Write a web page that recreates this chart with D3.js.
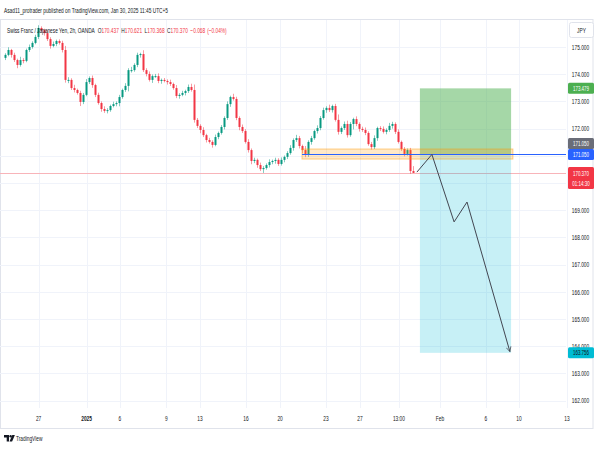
<!DOCTYPE html>
<html><head><meta charset="utf-8">
<script src="https://cdn.jsdelivr.net/npm/d3@7"></script>
<style>
body{margin:0;background:#fff}
svg{display:block;font-family:"Liberation Sans",Arial,sans-serif}
</style>
</head><body>
<svg id="c" width="600" height="452"></svg>
<script>
// ---------- data ----------
const firstOpen = 174.60;
const closes = [
174.71,174.89,174.71,174.52,174.34,174.52,174.49,174.89,175.00,175.15,
175.37,175.70,175.62,175.51,175.29,175.04,175.11,175.22,175.15,174.89,
173.79,173.79,173.49,173.42,173.31,172.98,173.24,173.71,173.86,173.60,
173.24,172.94,172.72,172.65,172.68,172.83,172.90,172.94,173.16,173.42,
173.57,174.15,174.15,174.34,174.71,174.74,174.15,174.01,173.79,173.93,
173.93,173.75,173.79,173.75,173.71,173.64,173.49,173.20,173.24,173.31,
173.38,173.53,173.42,172.32,172.10,171.95,171.76,171.58,171.51,171.40,
171.69,171.84,172.06,172.39,172.90,173.16,173.09,172.39,172.06,171.91,
171.51,171.21,170.81,170.85,170.66,170.51,170.55,170.66,170.77,170.81,
170.85,170.70,170.85,170.96,171.10,171.29,171.58,171.65,171.36,171.21,
171.03,171.51,171.65,171.91,172.02,172.39,172.68,172.76,172.68,172.83,
172.32,171.88,172.02,172.17,171.76,172.17,172.35,172.17,171.99,171.95,
171.84,171.43,171.32,171.65,172.02,171.99,171.88,171.95,172.10,172.17,
171.88,171.51,171.25,171.07,171.21,170.44,170.37
];
const upperWicks = [
0.06,0.10,0.04,0.08,0.05,0.12,0.07,0.05,0.09,0.06,
0.08,0.10,0.06,0.05,0.11,0.07,0.09,0.05,0.06,0.08,
0.15,0.10,0.06,0.12,0.05,0.08,0.07,0.11,0.06,0.09,
0.05,0.08,0.06,0.10,0.07,0.05,0.09,0.06,0.08,0.05,
0.10,0.07,0.12,0.06,0.08,0.05,0.14,0.07,0.09,0.06,
0.08,0.10,0.05,0.07,0.06,0.09,0.05,0.11,0.06,0.08,
0.05,0.09,0.12,0.20,0.07,0.06,0.10,0.05,0.08,0.06,
0.09,0.05,0.07,0.06,0.10,0.05,0.12,0.08,0.06,0.09,
0.07,0.10,0.06,0.08,0.05,0.09,0.07,0.06,0.10,0.05,
0.08,0.06,0.09,0.05,0.07,0.10,0.06,0.12,0.08,0.05,
0.15,0.06,0.08,0.05,0.10,0.07,0.09,0.06,0.12,0.05,
0.08,0.20,0.06,0.09,0.12,0.07,0.05,0.10,0.06,0.08,
0.09,0.06,0.08,0.10,0.05,0.07,0.09,0.06,0.11,0.08,
0.06,0.09,0.05,0.07,0.06,0.08,0.18
];
const lowerWicks = [
0.08,0.05,0.10,0.07,0.12,0.06,0.09,0.05,0.07,0.06,
0.05,0.08,0.06,0.09,0.07,0.10,0.05,0.08,0.06,0.09,
0.10,0.12,0.07,0.09,0.06,0.15,0.08,0.05,0.07,0.10,
0.08,0.06,0.10,0.07,0.09,0.06,0.05,0.08,0.12,0.06,
0.07,0.20,0.09,0.06,0.08,0.10,0.07,0.09,0.06,0.11,
0.06,0.08,0.10,0.05,0.09,0.07,0.06,0.08,0.10,0.05,
0.09,0.07,0.06,0.10,0.08,0.12,0.07,0.09,0.06,0.10,
0.05,0.08,0.06,0.09,0.07,0.10,0.06,0.08,0.12,0.07,
0.06,0.09,0.12,0.08,0.10,0.07,0.14,0.06,0.09,0.08,
0.10,0.07,0.06,0.09,0.08,0.06,0.10,0.07,0.09,0.12,
0.08,0.07,0.10,0.06,0.09,0.08,0.06,0.10,0.07,0.09,
0.06,0.10,0.08,0.07,0.09,0.06,0.20,0.08,0.10,0.07,
0.08,0.06,0.09,0.07,0.10,0.08,0.06,0.09,0.07,0.10,
0.08,0.06,0.07,0.09,0.06,0.10,0.00
];
const priceTicks = [162,163,164,165,166,167,168,169,170,171,172,173,174,175];
const timeTickIdx = [11.2,27.2,38.3,53.8,65,80.3,91.7,107,118.3,131.3,145,160.3,171.3,187.3];
const timeTickLabels = ["27","2025","6","9","13","16","20","23","27","13:00","Feb","6","10","13"];

const entryPrice = 171.05;
const targetPrice = 173.479;
const stopPrice = 163.756;
const positionIdx = [138.3, 168.7];
const zoneIdx = [99, 169.3];
const zonePrices = [170.88, 171.25];
const hlineStartIdx = 99;
const lastPrice = 170.37;
const arrowIdx = [137.3, 142.3, 149.7, 154, 168.3];
const arrowPrices = [170.40, 171.05, 168.57, 169.30, 163.80];

const tags = [
  {v: targetPrice, t: ["173.479"], bg: "#4caf50", fg: "#ffffff", shift: 0},
  {v: entryPrice, t: ["171.050"], bg: "#6a6d78", fg: "#ffffff", shift: -11},
  {v: entryPrice, t: ["171.050"], bg: "#2962ff", fg: "#ffffff", shift: 0},
  {v: lastPrice, t: ["170.370", "01:14:30"], bg: "#f23645", fg: "#ffffff", shift: 0},
  {v: stopPrice, t: ["163.756"], bg: "#00bcd4", fg: "#131722", shift: 0}
];

const headerText = "Asad11_protrader published on TradingView.com, Jan 30, 2025 11:45 UTC+5";
const legendParts = [
  ["Swiss Franc / Japanese Yen, 2h, OANDA", "#131722", 3],
  ["O", "#131722", 0], ["170.437", "#f23645", 2.5],
  ["H", "#131722", 0], ["170.621", "#f23645", 2.5],
  ["L", "#131722", 0], ["170.368", "#f23645", 2.5],
  ["C", "#131722", 0], ["170.370", "#f23645", 2.5],
  ["\u22120.068", "#f23645", 2], ["(\u22120.04%)", "#f23645", 0]
];

// ---------- layout ----------
const W = 600, H = 452;
const plotL = 0, plotR = 566, plotT = 19, plotB = 408, axisB = 428, axisR = 593;
const UP = "#089981", DOWN = "#f23645";
const COND = 0.6;
const FS = 8;

const svg = d3.select("#c");
const x = d3.scaleLinear().domain([0, 187]).range([5, 566]);
const y = d3.scaleLinear().domain([162, 175]).range([400.6, 47]);

// condensed text helper: horizontal squeeze through a transform
function label(parent, tx, ty, s, o = {}) {
  const t = parent.append("text")
    .attr("transform", `translate(${tx},${ty}) scale(${COND},1)`)
    .attr("font-size", o.fs || FS)
    .attr("fill", o.fill || "#131722")
    .attr("text-anchor", o.anchor || "start")
    .attr("font-weight", o.bold ? "bold" : "normal")
    .text(s);
  if (o.mid) t.attr("dy", "0.35em");
  return t;
}

// candles data
const bars = closes.map((c, i) => {
  const o = i === 0 ? firstOpen : closes[i - 1];
  return {i, o, c, h: Math.max(o, c) + upperWicks[i], l: Math.min(o, c) - lowerWicks[i]};
});

svg.append("rect").attr("width", W).attr("height", H).attr("fill", "#fff");

// frame
svg.append("rect").attr("x", 0.5).attr("y", plotT + 0.5).attr("width", axisR - 0.5).attr("height", axisB - plotT)
  .attr("fill", "none").attr("stroke", "#e0e3eb").attr("stroke-width", 1);

// grid
const grid = svg.append("g").attr("stroke", "#f0f3fa").attr("stroke-width", 1);
grid.selectAll("line.h").data(priceTicks).join("line")
  .attr("x1", plotL).attr("x2", plotR)
  .attr("y1", d => Math.round(y(d)) + 0.5).attr("y2", d => Math.round(y(d)) + 0.5);
grid.selectAll("line.v").data(timeTickIdx).join("line")
  .attr("x1", d => Math.round(x(d)) + 0.5).attr("x2", d => Math.round(x(d)) + 0.5)
  .attr("y1", plotT + 1).attr("y2", plotB);

// last price line
svg.append("line").attr("x1", plotL).attr("x2", plotR)
  .attr("y1", Math.round(y(lastPrice)) + 0.5).attr("y2", Math.round(y(lastPrice)) + 0.5)
  .attr("stroke", "#f8b4b9").attr("stroke-width", 1);

// candles
const cg = svg.append("g");
cg.selectAll("line").data(bars).join("line")
  .attr("x1", d => Math.round(x(d.i)) + 0.5).attr("x2", d => Math.round(x(d.i)) + 0.5)
  .attr("y1", d => y(d.h)).attr("y2", d => y(d.l))
  .attr("stroke", d => d.c >= d.o ? UP : DOWN).attr("stroke-width", 1).attr("stroke-opacity", 0.5);
cg.selectAll("rect").data(bars).join("rect")
  .attr("x", d => Math.round(x(d.i)) - 0.5).attr("width", 2)
  .attr("y", d => y(Math.max(d.o, d.c)))
  .attr("height", d => Math.max(1, Math.abs(y(d.o) - y(d.c))))
  .attr("fill", d => d.c >= d.o ? UP : DOWN);

// position boxes
svg.append("rect").attr("x", x(positionIdx[0])).attr("width", x(positionIdx[1]) - x(positionIdx[0]))
  .attr("y", y(targetPrice)).attr("height", y(entryPrice) - y(targetPrice))
  .attr("fill", "rgba(76,175,80,0.5)");
svg.append("rect").attr("x", x(positionIdx[0])).attr("width", x(positionIdx[1]) - x(positionIdx[0]))
  .attr("y", y(entryPrice)).attr("height", y(stopPrice) - y(entryPrice))
  .attr("fill", "rgba(0,188,212,0.22)");

// zone
svg.append("rect").attr("x", x(zoneIdx[0])).attr("width", x(zoneIdx[1]) - x(zoneIdx[0]))
  .attr("y", y(zonePrices[1])).attr("height", y(zonePrices[0]) - y(zonePrices[1]))
  .attr("fill", "rgba(255,152,0,0.22)").attr("stroke", "rgba(255,152,0,0.45)").attr("stroke-width", 1);

// horizontal blue line
svg.append("line").attr("x1", x(hlineStartIdx)).attr("x2", plotR)
  .attr("y1", Math.round(y(entryPrice)) + 0.5).attr("y2", Math.round(y(entryPrice)) + 0.5)
  .attr("stroke", "#2962ff").attr("stroke-width", 1);

// arrow path
svg.append("defs").append("marker").attr("id", "ah").attr("viewBox", "0 0 10 10")
  .attr("refX", 9).attr("refY", 5).attr("markerWidth", 6).attr("markerHeight", 6)
  .attr("orient", "auto")
  .append("path").attr("d", "M1,1 L9,5 L1,9").attr("fill", "none").attr("stroke", "#434651").attr("stroke-width", 1.2);
const pts = arrowIdx.map((d, k) => [x(d), y(arrowPrices[k])]);
svg.append("path").attr("d", d3.line()(pts)).attr("fill", "none")
  .attr("stroke", "#434651").attr("stroke-width", 1).attr("marker-end", "url(#ah)");

// header
label(svg, 4, 13, headerText);

// legend (sequential pieces)
const lgG = svg.append("g");
let lx = 7;
legendParts.forEach(p => {
  const t = label(lgG, lx, 33, p[0], {fill: p[1]});
  lx += t.node().getComputedTextLength() * COND + p[2];
});

// price axis labels
const axG = svg.append("g");
priceTicks.forEach(d => label(axG, 580.5, y(d), d3.format(".3f")(d), {anchor: "middle", mid: true}));

// JPY box
svg.append("rect").attr("x", 569.5).attr("y", 22.5).attr("width", 24).attr("height", 15).attr("rx", 2)
  .attr("fill", "#fff").attr("stroke", "#e0e3eb");
label(svg, 581.5, 30, "JPY", {anchor: "middle", mid: true});

// time axis labels
const tG = svg.append("g");
timeTickIdx.forEach((d, k) => label(tG, x(d), 421, timeTickLabels[k], {anchor: "middle", bold: timeTickLabels[k] === "2025"}));

// price tags
tags.forEach(tg => {
  const cy = y(tg.v) + tg.shift;
  const two = tg.t.length > 1;
  const hgt = two ? 22 : 11;
  const top = two ? cy - 6 : cy - 5.5;
  svg.append("rect").attr("x", 568).attr("y", top).attr("width", 26).attr("height", hgt).attr("rx", 1.5).attr("fill", tg.bg);
  tg.t.forEach((s, k) => label(svg, 581, cy + k * 10, s, {anchor: "middle", mid: true, fill: tg.fg, fs: 7.5}));
});

// TradingView logo
const logo = svg.append("g").attr("fill", "#131722");
logo.append("path").attr("d", "M4,435 h5 v6.5 h-2.3 v-4 h-2.7 z");
logo.append("circle").attr("cx", 10.6).attr("cy", 436.3).attr("r", 1.2);
logo.append("path").attr("d", "M12.3,435 h2.6 l-2.8,6.5 h-2.6 z");
label(svg, 16, 441, "TradingView");
</script>
</body></html>
